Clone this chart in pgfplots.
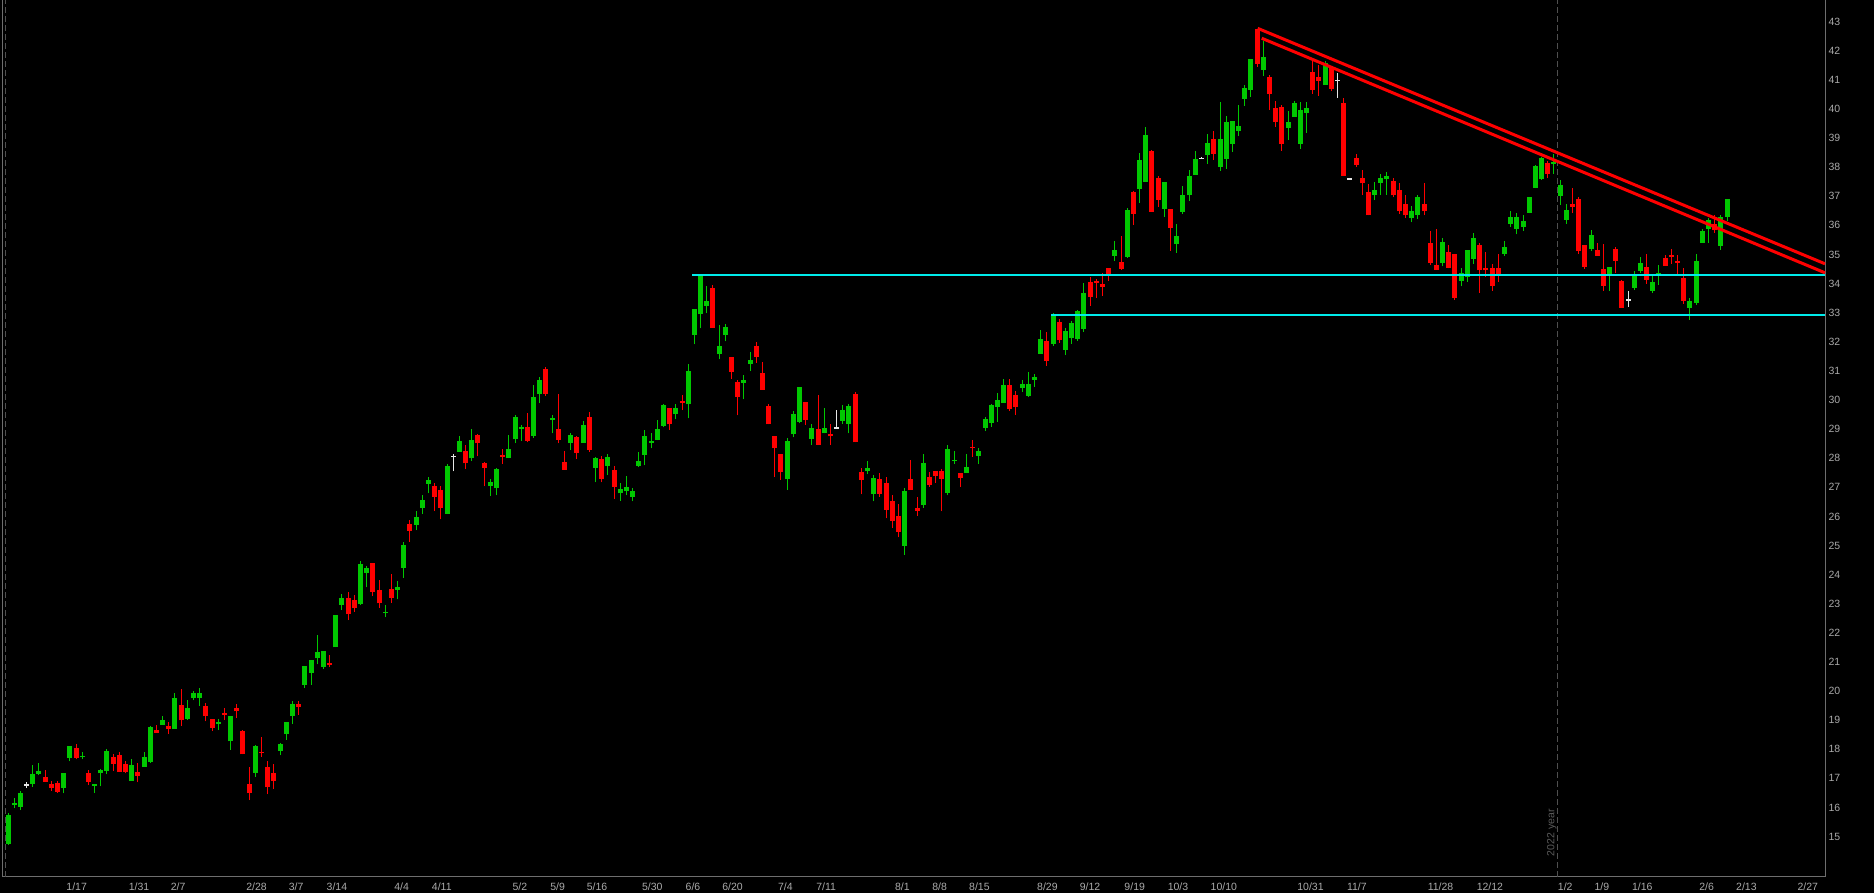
\documentclass[border=0pt]{standalone}
\usepackage{fontspec}
\setmainfont{Liberation Sans}
\usepackage{pgfplots}
\usepackage{pgfplotstable}
\pgfplotsset{compat=1.18}
\definecolor{cgreen}{HTML}{00C800}
\definecolor{cred}{HTML}{FF0000}
\definecolor{cwhite}{HTML}{E6E6E6}
\definecolor{ccyan}{HTML}{00EBEB}
\definecolor{lblgrey}{HTML}{AAAAAA}
\definecolor{axgrey}{HTML}{6E6E6E}
\definecolor{dashgrey}{HTML}{505050}
\definecolor{yeargrey}{HTML}{5A5A5A}

\pgfplotstableread{
x o h l c
8.3 14.76 15.81 14.72 15.75
14.3 16.08 16.32 15.97 16.14
20.3 16.03 16.55 15.91 16.50
32.3 16.82 17.46 16.71 17.15
38.3 17.15 17.52 17.11 17.26
63.3 16.67 17.19 16.48 17.19
69.3 17.70 18.12 17.58 18.12
82.3 17.72 17.89 17.65 17.78
94.3 16.75 16.81 16.51 16.81
100.3 17.17 17.33 16.72 17.29
106.3 17.26 18.00 17.14 17.95
131.3 16.91 17.67 16.91 17.46
144.3 17.40 17.92 17.40 17.74
150.3 17.56 18.80 17.53 18.77
162.3 18.85 19.14 18.85 19.01
174.3 18.70 19.94 18.70 19.77
187.3 19.05 19.70 19.00 19.42
193.3 19.77 20.01 19.68 19.92
199.3 19.77 20.10 19.50 19.94
218.3 18.87 19.04 18.66 18.95
230.3 18.27 19.15 17.99 19.15
255.3 17.20 18.15 17.05 18.12
280.3 17.95 18.22 17.80 18.17
286.3 18.53 18.94 18.33 18.94
292.3 19.15 19.66 18.88 19.56
304.3 20.21 20.87 20.12 20.87
311.3 20.63 21.07 20.22 21.07
317.3 21.12 21.93 20.92 21.35
323.3 20.84 21.38 20.77 21.38
335.3 21.50 22.62 21.50 22.62
341.3 22.96 23.33 22.78 23.20
360.3 23.00 24.48 22.96 24.37
366.3 24.06 24.29 23.56 24.24
385.3 22.67 22.95 22.53 22.72
397.3 23.48 23.77 23.15 23.58
403.3 24.24 25.12 23.90 25.03
416.3 25.71 26.17 25.52 25.99
422.3 26.30 26.74 26.10 26.57
428.3 27.12 27.36 26.80 27.26
447.3 26.10 27.80 26.10 27.74
459.3 28.23 28.76 28.23 28.60
471.3 27.99 29.00 27.90 28.63
490.3 27.03 27.29 26.70 27.19
496.3 26.96 27.67 26.72 27.64
508.3 27.99 28.79 27.99 28.32
515.3 28.65 29.49 28.52 29.42
521.3 29.01 29.13 28.59 29.07
533.3 28.77 30.51 28.71 30.11
539.3 30.22 30.78 29.89 30.70
552.3 29.32 29.49 28.85 29.39
570.3 28.53 28.87 28.29 28.81
583.3 28.53 29.29 28.53 29.15
595.3 27.67 28.05 27.17 28.02
607.3 27.74 28.15 27.43 28.05
620.3 26.79 27.15 26.53 26.95
626.3 26.86 27.39 26.72 27.02
632.3 26.68 26.97 26.52 26.88
638.3 27.74 28.21 27.71 27.91
644.3 28.12 28.97 27.75 28.77
651.3 28.53 28.88 28.34 28.60
657.3 28.64 29.31 28.61 29.01
663.3 29.12 29.86 29.06 29.84
675.3 29.53 29.86 29.33 29.73
688.3 29.85 31.24 29.37 31.01
694.3 32.25 33.14 31.91 33.14
700.3 32.94 34.31 32.46 34.31
706.3 33.24 33.93 32.98 33.41
719.3 31.57 32.59 31.40 31.87
725.3 32.24 32.61 32.01 32.52
743.3 30.59 30.86 30.02 30.70
750.3 31.25 31.66 30.99 31.38
787.3 27.27 28.69 26.91 28.60
793.3 28.82 29.63 28.72 29.53
799.3 29.25 30.46 29.20 30.46
811.3 28.67 29.18 28.45 29.05
824.3 28.85 29.73 28.85 29.05
842.3 29.29 29.84 29.18 29.67
848.3 29.16 29.87 28.85 29.80
867.3 27.57 27.91 27.46 27.67
873.3 26.78 27.43 26.52 27.33
904.3 24.99 26.99 24.68 26.88
923.3 26.40 28.15 26.30 27.84
947.3 26.81 28.46 26.72 28.33
954.3 27.91 28.26 27.81 27.95
966.3 27.50 28.15 27.50 27.71
978.3 28.09 28.36 27.80 28.26
985.3 29.05 29.43 28.94 29.36
991.3 29.22 29.87 29.08 29.84
997.3 29.77 30.25 29.25 30.01
1003.3 29.91 30.73 29.91 30.53
1022.3 30.42 30.70 30.28 30.56
1028.3 30.15 30.97 30.11 30.56
1034.3 30.70 30.90 30.46 30.80
1040.3 31.59 32.42 31.59 32.11
1053.3 31.93 33.00 31.87 32.90
1065.3 31.73 32.48 31.54 32.38
1071.3 32.14 32.72 31.93 32.66
1077.3 32.11 33.10 32.04 33.07
1083.3 32.45 34.03 32.35 33.69
1114.3 34.96 35.47 34.79 35.16
1127.3 34.92 36.61 34.89 36.54
1139.3 37.26 38.50 36.78 38.26
1145.3 37.50 39.39 37.50 39.12
1164.3 36.57 37.50 36.30 37.50
1176.3 35.37 36.06 35.06 35.64
1182.3 36.47 37.36 36.40 37.05
1189.3 37.05 37.91 36.85 37.71
1195.3 37.74 38.57 37.74 38.29
1207.3 38.43 39.15 38.12 38.84
1220.3 38.02 40.25 37.88 38.98
1226.3 38.29 39.77 37.95 39.56
1232.3 38.81 39.60 38.53 39.60
1238.3 39.25 40.15 39.08 39.42
1244.3 40.35 40.83 40.11 40.73
1250.3 40.66 41.73 40.42 41.73
1263.3 41.35 42.35 41.14 41.80
1288.3 39.36 39.94 38.94 39.56
1294.3 39.73 40.28 39.73 40.21
1300.3 38.81 40.25 38.63 39.97
1306.3 39.87 40.25 39.18 40.04
1325.3 40.84 41.66 40.84 41.59
1374.3 37.06 37.50 36.87 37.23
1380.3 37.47 37.75 37.06 37.64
1386.3 37.58 37.82 37.06 37.71
1411.3 36.27 36.65 36.10 36.51
1417.3 36.37 37.06 36.23 36.96
1442.3 34.72 35.58 34.59 35.44
1461.3 34.10 34.52 33.90 34.38
1467.3 34.21 35.17 34.07 35.14
1473.3 34.86 35.75 34.69 35.58
1504.3 35.03 35.48 34.96 35.27
1510.3 36.06 36.48 35.96 36.30
1516.3 35.89 36.44 35.69 36.30
1523.3 35.95 36.37 35.82 36.16
1529.3 36.43 36.98 36.41 36.98
1535.3 37.29 38.08 37.27 38.05
1541.3 37.60 38.36 37.57 38.32
1553.3 38.12 38.46 37.77 38.19
1560.3 37.02 37.57 36.71 37.40
1566.3 36.19 36.74 36.06 36.54
1591.3 35.20 35.85 35.13 35.68
1609.3 34.30 34.58 33.75 34.58
1634.3 33.86 34.44 33.79 34.30
1640.3 34.44 34.92 34.37 34.72
1652.3 33.75 34.30 33.69 34.06
1658.3 34.30 34.65 33.96 34.37
1689.3 33.17 33.51 32.76 33.41
1696.3 33.34 35.03 33.27 34.79
1702.3 35.40 35.88 35.40 35.82
1708.3 35.88 36.26 35.40 36.19
1720.3 35.30 36.37 35.16 36.30
1727.3 36.30 36.92 36.16 36.92
}\greendata

\pgfplotstableread{
x o h l c
45.3 17.05 17.28 16.88 16.88
51.3 16.79 16.90 16.56 16.67
57.3 16.85 16.90 16.51 16.54
76.3 18.05 18.17 17.65 17.70
88.3 17.19 17.28 16.77 16.88
113.3 17.74 17.85 17.25 17.50
119.3 17.81 17.92 17.22 17.22
125.3 17.50 17.58 17.17 17.22
137.3 17.22 17.54 16.86 17.09
156.3 18.67 18.84 18.56 18.56
168.3 18.80 18.93 18.52 18.70
181.3 19.53 20.08 18.79 18.99
205.3 19.49 19.58 18.96 19.15
212.3 19.04 19.04 18.62 18.74
224.3 19.25 19.43 19.01 19.19
236.3 19.42 19.54 19.07 19.30
242.3 18.63 18.66 17.82 17.82
249.3 16.81 17.40 16.25 16.51
261.3 17.92 18.43 17.74 17.89
267.3 17.40 17.59 16.46 16.69
273.3 17.19 17.49 16.63 16.91
298.3 19.56 19.66 19.19 19.46
329.3 20.98 21.23 20.81 20.91
348.3 23.20 23.40 22.44 22.63
354.3 23.12 23.30 22.72 22.84
372.3 24.41 24.41 23.26 23.41
379.3 23.48 23.81 22.87 23.01
391.3 23.51 24.02 23.02 23.20
409.3 25.75 25.87 25.12 25.51
434.3 27.05 27.16 26.18 26.68
440.3 26.92 27.04 25.90 26.30
465.3 28.26 28.47 27.63 27.82
477.3 28.81 28.84 28.06 28.51
484.3 27.84 27.88 27.03 27.68
502.3 28.12 28.31 27.80 28.05
527.3 29.08 29.55 28.54 28.60
545.3 31.07 31.13 30.13 30.22
558.3 29.01 30.22 28.51 28.63
564.3 27.88 28.26 27.61 27.61
576.3 28.74 28.76 27.97 28.19
589.3 29.42 29.60 28.22 28.29
601.3 27.98 28.08 27.17 27.29
614.3 27.60 27.74 26.61 27.02
669.3 29.73 29.73 28.98 29.16
682.3 29.98 30.18 29.65 29.88
712.3 33.86 33.95 32.48 32.48
731.3 31.49 31.49 30.72 30.97
737.3 30.63 30.69 29.47 30.12
756.3 31.87 31.98 31.28 31.49
762.3 30.94 31.32 30.35 30.35
768.3 29.80 29.87 29.16 29.16
774.3 28.77 28.77 27.35 28.34
780.3 28.15 28.15 27.26 27.51
805.3 29.94 29.94 29.15 29.32
818.3 29.01 30.18 28.46 28.46
830.3 28.84 29.18 28.46 28.75
855.3 30.22 30.28 28.54 28.54
861.3 27.54 27.67 26.76 27.26
879.3 27.29 27.50 26.68 26.78
886.3 27.16 27.34 25.93 26.23
892.3 26.54 26.75 25.61 25.85
898.3 26.02 26.44 25.28 25.47
910.3 27.29 27.95 26.92 26.92
917.3 26.30 26.68 26.01 26.20
929.3 27.36 27.54 27.02 27.09
935.3 27.57 27.57 27.16 27.40
941.3 27.57 27.64 26.17 27.29
960.3 27.50 27.50 27.02 27.33
972.3 28.39 28.64 28.05 28.36
1009.3 30.53 30.73 29.63 29.70
1015.3 30.18 30.32 29.49 29.77
1046.3 32.04 32.35 31.18 31.35
1059.3 32.69 32.79 31.97 32.07
1090.3 34.06 34.24 33.24 33.55
1096.3 34.10 34.17 33.51 34.03
1102.3 33.99 34.37 33.59 33.89
1108.3 34.54 34.54 34.09 34.33
1121.3 34.75 35.64 34.48 34.51
1133.3 37.16 37.19 36.02 36.40
1151.3 38.57 38.60 36.47 36.47
1158.3 37.64 37.71 36.64 36.88
1170.3 36.57 36.57 35.13 35.92
1213.3 38.98 39.25 38.26 38.46
1257.3 42.76 42.76 41.45 41.56
1269.3 41.11 41.18 39.97 40.52
1275.3 40.04 40.28 39.39 39.56
1281.3 40.08 40.15 38.57 38.81
1312.3 41.28 41.66 40.52 40.66
1318.3 41.11 41.52 40.46 40.97
1331.3 41.42 41.49 40.63 40.70
1343.3 40.22 40.36 37.71 37.71
1356.3 38.30 38.46 38.00 38.09
1362.3 37.64 37.91 37.04 37.44
1368.3 37.16 37.43 36.34 36.34
1393.3 37.51 37.64 36.96 37.03
1399.3 37.23 37.44 36.40 36.48
1405.3 36.72 37.03 36.27 36.34
1424.3 36.75 37.44 36.34 36.48
1430.3 35.41 35.79 34.65 34.72
1436.3 34.65 35.86 34.48 34.48
1448.3 35.07 35.31 34.52 34.55
1454.3 35.00 35.00 33.45 33.52
1479.3 35.31 35.38 33.69 34.45
1485.3 34.55 35.07 34.24 34.45
1492.3 34.52 34.69 33.76 33.93
1498.3 34.52 35.03 34.07 34.28
1547.3 38.15 38.22 37.64 37.77
1572.3 36.74 37.29 36.43 36.64
1578.3 36.92 36.98 35.03 35.13
1584.3 35.34 35.34 34.51 34.58
1597.3 35.16 35.40 34.96 34.96
1603.3 34.51 35.37 33.75 33.93
1615.3 35.20 35.27 34.37 34.79
1621.3 34.10 34.13 33.17 33.17
1646.3 34.58 35.03 33.99 34.13
1665.3 34.89 34.99 34.61 34.61
1671.3 34.99 35.20 34.68 34.92
1677.3 34.79 34.99 34.34 34.72
1683.3 34.20 34.54 33.31 33.41
1714.3 36.06 36.37 35.75 35.85
}\reddata

\pgfplotstableread{
x o h l c
26.3 16.78 16.87 16.66 16.78
453.3 28.07 28.14 27.55 28.07
836.3 29.04 29.65 29.00 29.04
1201.3 38.31 38.34 38.28 38.31
1337.3 40.98 41.22 40.39 40.98
1349.3 37.60 37.62 37.58 37.60
1628.3 33.45 33.75 33.20 33.45
}\whitedata

\begin{document}
\begin{tikzpicture}[x=1pt,y=1pt]
\fill[black] (0,0) rectangle (749.6,357.2);
\begin{axis}[
  at={(0,5.6)}, anchor=south west,
  scale only axis, width=730pt, height=350.4pt,
  xmin=0, xmax=1825, ymin=13.62, ymax=43.72,
  clip=false,
  axis line style={draw=none},
  tick style={draw=none},
  major tick length=0pt,
  ytick={15,...,43},
  yticklabel pos=right,
  yticklabel style={anchor=west, inner sep=0pt, xshift=1.2pt, /pgf/number format/assume math mode=true},
  xtick={76.7,139.1,178.1,256.6,296.2,336.9,401.7,441.8,519.8,557.6,597.1,652.3,693.0,732.6,785.4,826.1,902.3,939.6,979.4,1047.4,1090.1,1134.7,1178.0,1223.8,1310.5,1356.9,1440.5,1489.9,1565.2,1601.9,1642.2,1706.6,1746.4,1807.8},
  xticklabels={1/17,1/31,2/7,2/28,3/7,3/14,4/4,4/11,5/2,5/9,5/16,5/30,6/6,6/20,7/4,7/11,8/1,8/8,8/15,8/29,9/12,9/19,10/3,10/10,10/31,11/7,11/28,12/12,1/2,1/9,1/16,2/6,2/13,2/27},
  xticklabel style={anchor=base, inner sep=0pt, yshift=-5.6pt},
  tick label style={font=\fontsize{4.2}{5}\selectfont, text=lblgrey},
]
% frame and separators
\draw[axgrey, line width=0.4pt] (axis cs:2.7,13.62) -- (axis cs:1825,13.62) -- (axis cs:1825,44.0);
\draw[axgrey, line width=0.4pt] (axis cs:2.7,13.62) -- (axis cs:2.7,44.0);
\draw[dashgrey, line width=0.4pt, dash pattern=on 2.4pt off 1.2pt] (axis cs:5.3,13.62) -- (axis cs:5.3,44.0);
\draw[dashgrey, line width=0.4pt, dash pattern=on 2.4pt off 1.2pt] (axis cs:1557.7,13.62) -- (axis cs:1557.7,44.0);
\node[rotate=90, text=yeargrey, font=\fontsize{4.2}{5}\selectfont, inner sep=0pt] at (axis cs:1551.7,15.13) {2022 year};

% wicks
\addplot[draw=none, mark=none, forget plot, error bars/.cd, y dir=plus, y explicit, error mark=none,
  error bar style={draw=cgreen, line width=0.4pt}]
  table[x=x, y=l, y error expr=\thisrow{h}-\thisrow{l}] {\greendata};
\addplot[draw=none, mark=none, forget plot, error bars/.cd, y dir=plus, y explicit, error mark=none,
  error bar style={draw=cred, line width=0.4pt}]
  table[x=x, y=l, y error expr=\thisrow{h}-\thisrow{l}] {\reddata};
\addplot[draw=none, mark=none, forget plot, error bars/.cd, y dir=plus, y explicit, error mark=none,
  error bar style={draw=cwhite, line width=0.4pt}]
  table[x=x, y=l, y error expr=\thisrow{h}-\thisrow{l}] {\whitedata};
% bodies
\addplot[draw=none, mark=none, forget plot, error bars/.cd, y dir=plus, y explicit, error mark=none,
  error bar style={draw=cgreen, line width=2pt}]
  table[x=x, y=o, y error expr=\thisrow{c}-\thisrow{o}] {\greendata};
\addplot[draw=none, mark=none, forget plot, error bars/.cd, y dir=plus, y explicit, error mark=none,
  error bar style={draw=cred, line width=2pt}]
  table[x=x, y=c, y error expr=\thisrow{o}-\thisrow{c}] {\reddata};
\addplot[draw=none, mark=none, forget plot, error bars/.cd, y dir=both, y explicit, error mark=none,
  error bar style={draw=cwhite, line width=1.8pt}]
  table[x=x, y=o, y error expr=0.018] {\whitedata};

% support lines
\addplot[ccyan, line width=0.8pt] coordinates {(692,34.31) (1825,34.31)};
\addplot[ccyan, line width=0.8pt] coordinates {(1051,32.91) (1825,32.91)};
% trend lines
\addplot[cred, line width=1.2pt] coordinates {(1257.7,42.77) (1825,34.68)};
\addplot[cred, line width=1.2pt] coordinates {(1261.7,42.43) (1825,34.37)};
\end{axis}
\pgfresetboundingbox
\path[use as bounding box] (0,0) rectangle (749.6,357.2);
\end{tikzpicture}
\end{document}
